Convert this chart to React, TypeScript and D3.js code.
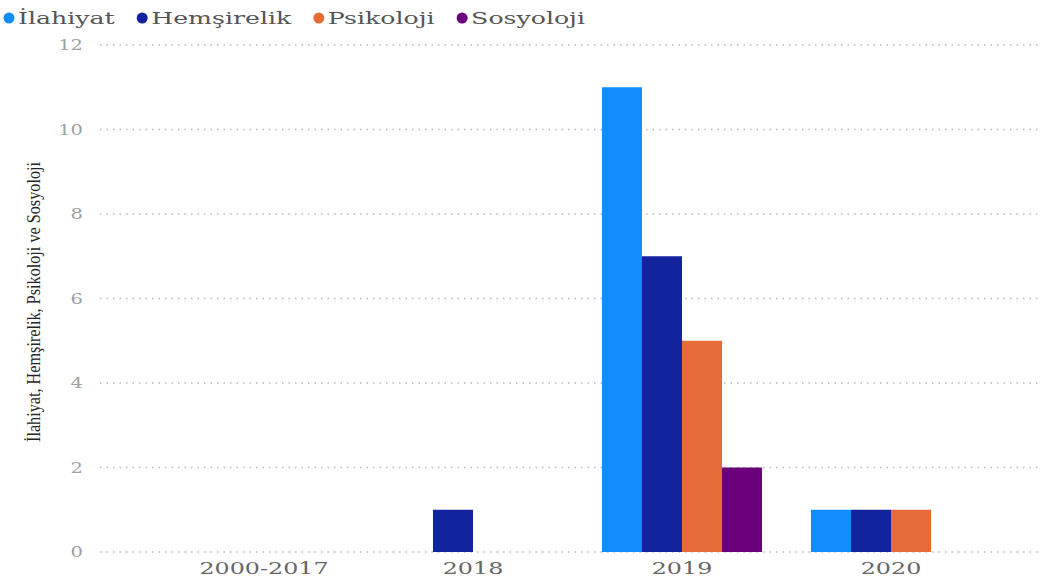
import React, { useEffect, useRef } from "react";
import * as d3 from "d3";

const categories = ["2000-2017", "2018", "2019", "2020"];
const seriesNames = ["İlahiyat", "Hemşirelik", "Psikoloji", "Sosyoloji"];
const ilahiyat = [0, 0, 11, 1];
const hemsirelik = [0, 1, 7, 1];
const psikoloji = [0, 0, 5, 1];
const sosyoloji = [0, 0, 2, 0];
const seriesColors = ["#118DFF", "#12239E", "#E66C37", "#6B007B"];
const yTicks = [0, 2, 4, 6, 8, 10, 12];
const yTitle = "İlahiyat, Hemşirelik, Psikoloji ve Sosyoloji";

const W = 1052;
const H = 579;

function stretch(sel: d3.Selection<SVGTextElement, any, any, any>, f: number) {
  sel.each(function () {
    const node = this as SVGTextElement;
    const w = node.getComputedTextLength();
    d3.select(node)
      .attr("textLength", w * f)
      .attr("lengthAdjust", "spacingAndGlyphs");
  });
}

export default function App() {
  const ref = useRef<SVGSVGElement>(null);

  useEffect(() => {
    const svg = d3.select(ref.current);
    svg.selectAll("*").remove();

    const values = [ilahiyat, hemsirelik, psikoloji, sosyoloji];
    const y = d3.scaleLinear().domain([0, 12]).range([552, 45]);
    const x0 = d3
      .scaleBand<string>()
      .domain(categories)
      .range([159.5, 995.5])
      .paddingInner(0.234)
      .paddingOuter(0.117);
    const x1 = d3
      .scaleBand<string>()
      .domain(seriesNames)
      .range([0, x0.bandwidth()])
      .padding(0);

    // gridlines
    svg
      .append("g")
      .selectAll("line")
      .data(yTicks)
      .join("line")
      .attr("x1", 100)
      .attr("x2", 1042)
      .attr("y1", (d) => y(d))
      .attr("y2", (d) => y(d))
      .attr("stroke", "#B8B8B8")
      .attr("stroke-width", 1.3)
      .attr("stroke-dasharray", "1.5 5");

    // y tick labels
    const yl = svg
      .append("g")
      .selectAll("text")
      .data(yTicks)
      .join("text")
      .attr("x", 83)
      .attr("y", (d) => y(d))
      .attr("dy", "0.35em")
      .attr("text-anchor", "end")
      .attr("font-family", "DejaVu Serif")
      .attr("font-size", 15)
      .attr("fill", "#A0A0A0")
      .text((d) => String(d));
    stretch(yl as any, 1.3);

    // bars
    const groups = svg
      .append("g")
      .selectAll("g")
      .data(categories)
      .join("g")
      .attr("transform", (c) => `translate(${x0(c)},0)`);
    groups
      .selectAll("rect")
      .data((c, ci) =>
        seriesNames.map((s, si) => ({ s, si, v: values[si][ci] }))
      )
      .join("rect")
      .filter((d) => d.v > 0)
      .attr("x", (d) => x1(d.s)!)
      .attr("width", x1.bandwidth())
      .attr("y", (d) => y(d.v))
      .attr("height", (d) => y(0) - y(d.v))
      .attr("fill", (d) => seriesColors[d.si]);

    // x labels
    const xl = svg
      .append("g")
      .selectAll("text")
      .data(categories)
      .join("text")
      .attr("x", (c) => x0(c)! + x0.bandwidth() / 2)
      .attr("y", 574)
      .attr("text-anchor", "middle")
      .attr("font-family", "DejaVu Serif")
      .attr("font-size", 17)
      .attr("fill", "#666666")
      .text((c) => c);
    stretch(xl as any, 1.4);

    // y title
    svg
      .append("text")
      .attr("transform", "translate(40,302) rotate(-90)")
      .attr("text-anchor", "middle")
      .attr("font-family", "Liberation Serif")
      .attr("font-size", 19)
      .attr("fill", "#252525")
      .attr("textLength", 280)
      .attr("lengthAdjust", "spacingAndGlyphs")
      .text(yTitle);

    // legend
    const legend = svg.append("g");
    const texts = seriesNames.map((name) =>
      legend
        .append("text")
        .attr("y", 18)
        .attr("dy", "0.35em")
        .attr("font-family", "DejaVu Serif")
        .attr("font-size", 17)
        .attr("fill", "#555555")
        .text(name)
    );
    const widths = texts.map((t) =>
      (t.node() as SVGTextElement).getComputedTextLength()
    );
    const total = d3.sum(widths);
    const f = (585 - 127.5) / total;
    let cx = 9;
    seriesNames.forEach((name, i) => {
      legend
        .append("circle")
        .attr("cx", cx)
        .attr("cy", 18)
        .attr("r", 5.5)
        .attr("fill", seriesColors[i]);
      const tw = widths[i] * f;
      texts[i]
        .attr("x", cx + 9)
        .attr("textLength", tw)
        .attr("lengthAdjust", "spacingAndGlyphs");
      cx = cx + 9 + tw + 27.5;
    });
  }, []);

  return (
    <svg
      ref={ref}
      width={W}
      height={H}
      style={{ position: "absolute", left: 0, top: 0, background: "#fff" }}
    />
  );
}
